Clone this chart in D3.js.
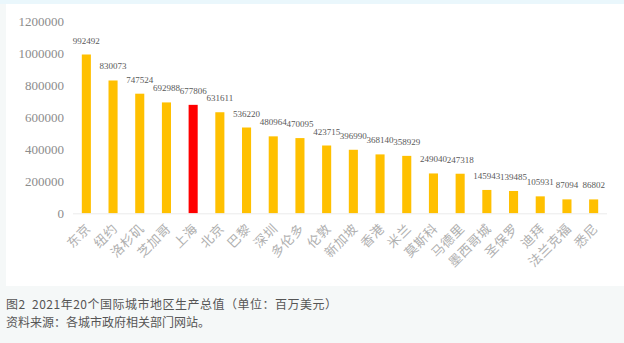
<!DOCTYPE html>
<html>
<head>
<meta charset="utf-8">
<script src="https://cdn.jsdelivr.net/npm/d3@7"></script>
<style>
  html, body { margin: 0; padding: 0; background: #f5f8f8; }
  svg { display: block; }
</style>
</head>
<body>
<svg id="chart" width="624" height="343"></svg>
<script>
// 2021 GDP of 20 international cities (million USD)
const cities = ["东京","纽约","洛杉矶","芝加哥","上海","北京","巴黎","深圳","多伦多","伦敦",
                "新加坡","香港","米兰","莫斯科","马德里","墨西哥城","圣保罗","迪拜","法兰克福","悉尼"];
const gdp = [992492, 830073, 747524, 692988, 677806, 631611, 536220, 480964, 470095, 423715,
             396990, 368140, 358929, 249040, 247318, 145943, 139485, 105931, 87094, 86802];
const highlightCity = "上海";
const yTicks = [0, 200000, 400000, 600000, 800000, 1000000, 1200000];
const captionLines = ["图2  2021年20个国际城市地区生产总值（单位：百万美元）",
                      "资料来源：各城市政府相关部门网站。"];

const svg = d3.select("#chart");

// page backdrop: blue strip on top, white chart panel
svg.append("rect").attr("x", 0).attr("y", 0).attr("width", 624).attr("height", 343).attr("fill", "#f5f8f8");
svg.append("rect").attr("x", 0).attr("y", 0).attr("width", 624).attr("height", 4).attr("fill", "#eaf7fc");
svg.append("rect").attr("x", 6).attr("y", 4).attr("width", 618).attr("height", 282).attr("fill", "#ffffff");

const data = cities.map((c, i) => ({ city: c, value: gdp[i] }));

const x = d3.scaleBand().domain(cities).range([73, 607]).paddingInner(0.66).paddingOuter(0.33);
const y = d3.scaleLinear().domain([0, 1200000]).range([213.3, 21.3]);

// y axis labels (no line, no ticks)
const yAxis = svg.append("g").attr("transform", "translate(64,0)")
  .call(d3.axisLeft(y).tickValues(yTicks).tickSize(0).tickPadding(0).tickFormat(d3.format("d")));
yAxis.select(".domain").remove();
yAxis.selectAll("text")
  .attr("fill", "#8c8c8c")
  .style("font-family", "'Liberation Serif', 'Times New Roman', serif")
  .style("font-size", "13px");

// bars
svg.append("g").selectAll("rect").data(data).join("rect")
  .attr("x", d => x(d.city))
  .attr("y", d => y(d.value))
  .attr("width", x.bandwidth())
  .attr("height", d => y(0) - y(d.value))
  .attr("fill", d => d.city === highlightCity ? "#ff0000" : "#ffc000");

// baseline
const xAxis = svg.append("g").attr("transform", `translate(0,${y(0)})`)
  .call(d3.axisBottom(x).tickSize(0).tickPadding(0).tickFormat(""));
xAxis.select(".domain").attr("stroke", "#ececec").attr("d", "M73,0.5H607");

// category labels rotated -45°
svg.append("g").selectAll("text").data(data).join("text")
  .attr("transform", d => `translate(${x(d.city) + x.bandwidth() / 2 + 2},${y(0) + 13}) rotate(-45)`)
  .attr("text-anchor", "end")
  .attr("dy", "0.35em")
  .attr("fill", "#b0b0b0")
  .style("font-family", "'Noto Sans CJK SC', sans-serif")
  .style("font-size", "13px")
  .style("letter-spacing", "0.5px")
  .text(d => d.city);

// value labels above bars
svg.append("g").selectAll("text").data(data).join("text")
  .attr("x", d => x(d.city) + x.bandwidth() / 2)
  .attr("y", d => y(d.value) - 11)
  .attr("text-anchor", "middle")
  .attr("fill", "#595959")
  .style("font-family", "'Liberation Serif', 'Times New Roman', serif")
  .style("font-size", "9px")
  .text(d => d.value);

// caption
svg.append("g").selectAll("text").data(captionLines).join("text")
  .attr("x", 6)
  .attr("y", (d, i) => 308.5 + i * 18.5)
  .attr("fill", "#555555")
  .attr("xml:space", "preserve")
  .style("white-space", "pre")
  .style("letter-spacing", (d, i) => i === 0 ? "0.5px" : "0px")
  .style("font-family", "'Noto Sans CJK SC', sans-serif")
  .style("font-size", "12px")
  .text(d => d);
</script>
</body>
</html>
